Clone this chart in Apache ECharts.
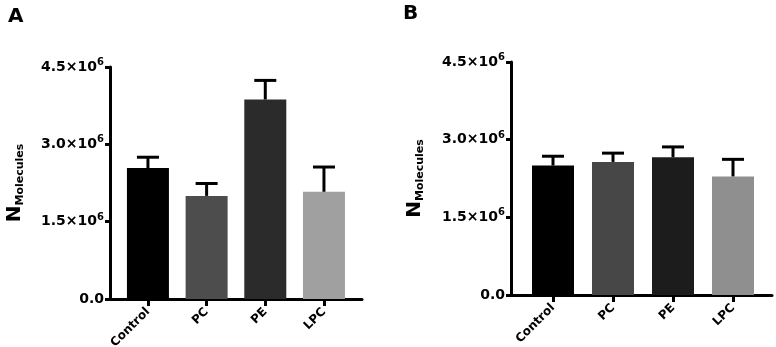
<!DOCTYPE html>
<html>
<head>
<meta charset="utf-8">
<script src="https://cdn.jsdelivr.net/npm/echarts@6/dist/echarts.min.js"></script>
<style>
  html, body { margin: 0; padding: 0; background: #fff; }
  #chart { width: 776px; height: 347px; }
</style>
</head>
<body>
<div id="chart"></div>
<script>
// categories and values
var categories = ['Control', 'PC', 'PE', 'LPC'];
var meanA = [2.54e6, 2.00e6, 3.87e6, 2.08e6];
var errA  = [0.21e6, 0.24e6, 0.37e6, 0.48e6];
var meanB = [2.50e6, 2.57e6, 2.66e6, 2.29e6];
var errB  = [0.18e6, 0.17e6, 0.20e6, 0.33e6];
var yTickMant = ['0.0', '1.5', '3.0', '4.5'];

var barColorsA = ['#000000', '#4d4d4d', '#2b2b2b', '#a0a0a0'];
var barColorsB = ['#000000', '#474747', '#1c1c1c', '#8f8f8f'];

var FONT = 'DejaVu Sans';
var chart = echarts.init(document.getElementById('chart'));

function frameX(gi) {
  return {
    type: 'value', gridIndex: gi, min: 0, max: 1,
    axisLine: { show: true, lineStyle: { color: '#000', width: 3 } },
    axisTick: { show: false }, axisLabel: { show: false }, splitLine: { show: false }
  };
}
function frameY(gi, gap) {
  return {
    type: 'value', gridIndex: gi, min: 0, max: 4.5e6, interval: 1.5e6,
    name: '{n|N}{m|Molecules}', nameLocation: 'middle', nameRotate: 90, nameGap: gap,
    nameTextStyle: {
      rich: {
        n: { fontFamily: FONT, fontWeight: 'bold', fontSize: 20, color: '#000' },
        m: { fontFamily: FONT, fontWeight: 'bold', fontSize: 11, color: '#000', padding: [12, 0, 0, 0] }
      }
    },
    axisLine: { show: true, lineStyle: { color: '#000', width: 3 } },
    axisTick: { show: true, length: 5, lineStyle: { color: '#000', width: 3 } },
    splitLine: { show: false },
    axisLabel: {
      margin: 6,
      formatter: function (v, i) {
        if (i === 0) return '{b|' + yTickMant[i] + '}';
        return '{b|' + yTickMant[i] + '×10}{s|6}';
      },
      rich: {
        b: { fontFamily: FONT, fontWeight: 'bold', fontSize: 14, color: '#000' },
        s: { fontFamily: FONT, fontWeight: 'bold', fontSize: 10, color: '#000', padding: [0, 0, 9, 0] }
      }
    }
  };
}
function barX(gi) {
  return {
    type: 'category', gridIndex: gi, data: categories,
    axisLine: { show: false },
    axisTick: { show: true, alignWithLabel: true, length: 7, lineStyle: { color: '#000', width: 3 } },
    axisLabel: { rotate: 45, margin: 11, fontFamily: FONT, fontWeight: 'bold', fontSize: 12, color: '#000' }
  };
}
function barY(gi) {
  return { type: 'value', gridIndex: gi, min: 0, max: 4.5e6, show: false, splitLine: { show: false } };
}
function barSeries(gi, means, colors) {
  return {
    type: 'bar', xAxisIndex: gi, yAxisIndex: gi, barWidth: 42,
    data: means.map(function (v, i) { return { value: v, itemStyle: { color: colors[i] } }; })
  };
}
function errSeries(gi, means, errs) {
  return {
    type: 'custom', xAxisIndex: gi, yAxisIndex: gi, z: 3,
    data: means.map(function (v, i) { return [i, v, v + errs[i]]; }),
    renderItem: function (params, api) {
      var base = api.coord([api.value(0), api.value(1)]);
      var top = api.coord([api.value(0), api.value(2)]);
      var st = { stroke: '#000', lineWidth: 3 };
      return {
        type: 'group',
        children: [
          { type: 'line', shape: { x1: base[0], y1: base[1], x2: top[0], y2: top[1] }, style: st },
          { type: 'line', shape: { x1: top[0] - 11, y1: top[1], x2: top[0] + 11, y2: top[1] }, style: st }
        ]
      };
    }
  };
}

var option = {
  animation: false,
  backgroundColor: '#fff',
  title: [
    { text: 'A', left: 8, top: 7, padding: 0, textStyle: { fontFamily: FONT, fontWeight: 'bold', fontSize: 20, color: '#000' } },
    { text: 'B', left: 403, top: 4, padding: 0, textStyle: { fontFamily: FONT, fontWeight: 'bold', fontSize: 20, color: '#000' } }
  ],
  grid: [
    { left: 110, top: 67, width: 252, height: 232, outerBoundsMode: 'none' },
    { left: 118.6, top: 67, width: 234.7, height: 232, outerBoundsMode: 'none' },
    { left: 511, top: 62, width: 261, height: 233, outerBoundsMode: 'none' },
    { left: 523, top: 62, width: 240, height: 233, outerBoundsMode: 'none' }
  ],
  xAxis: [frameX(0), barX(1), frameX(2), barX(3)],
  yAxis: [frameY(0, 84), barY(1), frameY(2, 85), barY(3)],
  series: [
    barSeries(1, meanA, barColorsA),
    errSeries(1, meanA, errA),
    barSeries(3, meanB, barColorsB),
    errSeries(3, meanB, errB)
  ]
};
chart.setOption(option);
window.addEventListener('resize', function () { chart.resize(); });
</script>
</body>
</html>
